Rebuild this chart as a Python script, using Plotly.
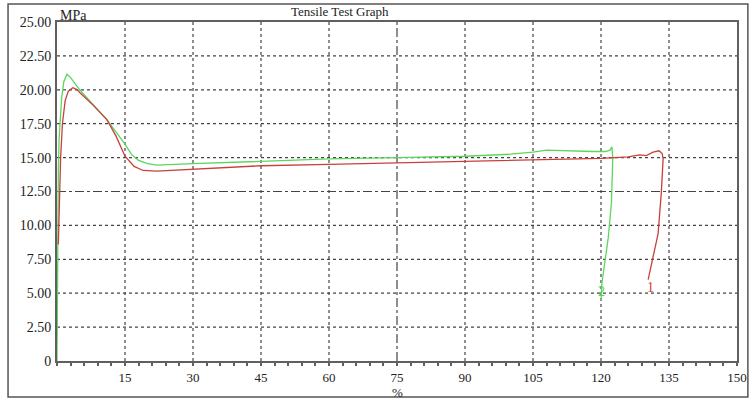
import plotly.graph_objects as go

# ---- data ----
green_x = [0.0, 0.05, 0.1, 0.2, 0.3, 0.45, 0.7, 1.0, 1.5, 2.2, 3.0, 5.0, 8.0, 11.0, 13.0, 15.0, 16.5, 18.0, 20.0,
           22.0, 30.0, 45.0, 60.0, 75.0, 90.0, 100.0, 105.0, 108.0, 112.0, 118.0, 121.0, 122.0, 122.4, 122.6,
           122.3, 121.6, 120.9, 120.2, 120.0]
green_y = [0.0, 3.0, 7.0, 11.0, 14.0, 16.3, 18.0, 19.3, 20.6, 21.15, 20.9, 20.0, 18.9, 17.8, 16.9, 16.0, 15.2, 14.8, 14.55,
           14.45, 14.55, 14.75, 14.9, 15.0, 15.1, 15.25, 15.4, 15.55, 15.5, 15.45, 15.45, 15.55, 15.8, 15.0,
           11.65, 9.1, 7.4, 5.75, 4.5]

red_x = [0.3, 0.5, 0.8, 1.2, 1.8, 2.5, 3.5, 4.5, 5.0, 8.0, 11.0, 13.0, 15.0, 17.0, 19.0, 22.0, 30.0, 45.0, 60.0,
         75.0, 90.0, 105.0, 120.0, 126.0, 128.5, 130.0, 131.5, 132.8, 133.5, 133.7, 133.3, 132.6, 130.4]
red_y = [8.6, 12.0, 15.0, 17.5, 19.2, 19.9, 20.15, 20.0, 19.8, 18.85, 17.8, 16.6, 15.1, 14.35, 14.05, 14.0, 14.15, 14.4, 14.5,
         14.6, 14.7, 14.8, 14.95, 15.05, 15.2, 15.15, 15.4, 15.5, 15.3, 14.9, 12.4, 9.4, 6.0]

curve_names = ["2", "1"]
label_pos = [(120.2, 5.1), (131.0, 5.4)]

x_ticks = [15, 30, 45, 60, 75, 90, 105, 120, 135, 150]
y_ticks = [0, 2.5, 5.0, 7.5, 10.0, 12.5, 15.0, 17.5, 20.0, 22.5, 25.0]
y_labels = ["0" if v == 0 else f"{v:.2f}" for v in y_ticks]

GREEN = "#5cd65c"
RED = "#c8403c"
GRID = "#444444"
AXIS = "#606060"
FONT = "Liberation Serif"

fig = go.Figure()
fig.add_trace(go.Scatter(x=green_x, y=green_y, mode="lines", line=dict(color=GREEN, width=1.3),
                         name=curve_names[0], hoverinfo="skip"))
fig.add_trace(go.Scatter(x=red_x, y=red_y, mode="lines", line=dict(color=RED, width=1.3),
                         name=curve_names[1], hoverinfo="skip"))

shapes = []
for v in x_ticks[:-1]:
    shapes.append(dict(type="line", xref="x", yref="y", x0=v, x1=v, y0=0, y1=25, layer="below",
                       line=dict(color=GRID, width=1.2, dash="dashdot" if v == 75 else "dot")))
for v in y_ticks[1:-1]:
    shapes.append(dict(type="line", xref="x", yref="y", x0=0, x1=150, y0=v, y1=v, layer="below",
                       line=dict(color=GRID, width=1.2, dash="dashdot" if v == 12.5 else "dot")))
# outer frame around the whole picture
shapes.append(dict(type="rect", xref="paper", yref="paper", x0=-0.072, x1=1.016, y0=-0.106, y1=1.053,
                   line=dict(color="#555555", width=1.5)))

annotations = [
    dict(text="Tensile Test Graph", xref="paper", yref="paper", x=0.416, y=1.0, yanchor="bottom",
         xanchor="center", showarrow=False, font=dict(family=FONT, size=13, color="#222"), yshift=1),
    dict(text="MPa", xref="paper", yref="paper", x=0.0, y=1.0, yanchor="bottom", xanchor="left",
         showarrow=False, font=dict(family=FONT, size=14, color="#222"), xshift=1, yshift=-3),
    dict(text="%", xref="x", yref="paper", x=75, y=0, yanchor="top", xanchor="center",
         showarrow=False, font=dict(family=FONT, size=13, color="#222"), yshift=-22),
]
colors = [GREEN, RED]
for name, (lx, ly), c in zip(curve_names, label_pos, colors):
    annotations.append(dict(text=name, x=lx, y=ly, xref="x", yref="y", showarrow=False,
                            font=dict(family=FONT, size=14, color=c)))

fig.update_layout(
    width=750, height=400,
    margin=dict(l=57, r=13, t=22, b=39, autoexpand=False),
    paper_bgcolor="white", plot_bgcolor="white",
    showlegend=False,
    shapes=shapes, annotations=annotations,
    font=dict(family=FONT, size=14, color="#222"),
)
fig.update_xaxes(range=[0, 150], tickvals=x_ticks, ticktext=[str(v) for v in x_ticks],
                 automargin=False,
                 showgrid=False, zeroline=False, showline=True, linecolor=AXIS, linewidth=2, mirror=True,
                 ticks="outside", ticklen=3, tickcolor=AXIS, tickwidth=1.5,
                 minor=dict(dtick=3, tick0=0, ticks="outside", ticklen=3, tickcolor=AXIS, tickwidth=1.5),
                 tickfont=dict(family=FONT, size=13, color="#222"))
fig.update_yaxes(range=[0, 25], tickvals=y_ticks, ticktext=y_labels,
                 automargin=False,
                 showgrid=False, zeroline=False, showline=True, linecolor=AXIS, linewidth=2, mirror=True,
                 ticks="", ticklabelstandoff=1,
                 tickfont=dict(family=FONT, size=14, color="#222"))

fig.write_html("out.html")
